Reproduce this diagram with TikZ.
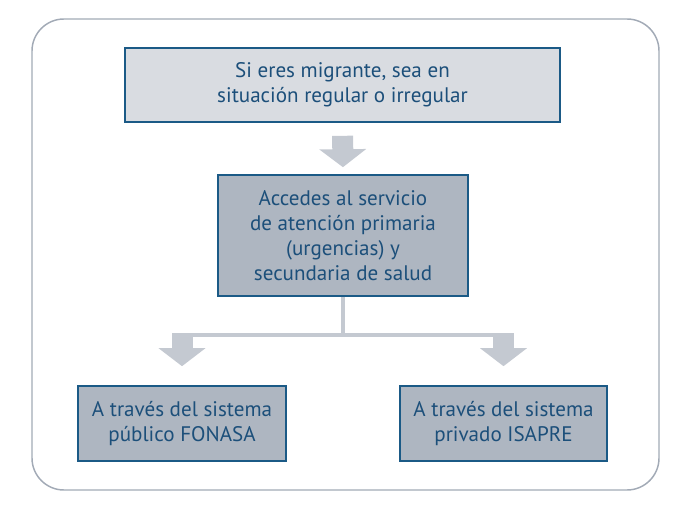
\documentclass[tikz,border=0pt]{standalone}
\usepackage{fontspec}
\setmainfont{PT Sans}
\usetikzlibrary{arrows.meta,positioning}
\definecolor{boxline}{HTML}{1B5A86}
\definecolor{boxtext}{HTML}{1C4F7A}
\definecolor{lightfill}{HTML}{D9DCE1}
\definecolor{darkfill}{HTML}{AEB6C1}
\definecolor{arrowgrey}{HTML}{C4C9D1}
\definecolor{framegrey}{HTML}{A2AAB6}

\begin{document}
\begin{tikzpicture}[x=0.75pt, y=-0.75pt,
   box/.style={draw=boxline, line width=1.2pt, text=boxtext, align=center, inner sep=0pt,
     font=\fontsize{15.8}{18.75}\selectfont},
   lightbox/.style={box, fill=lightfill},
   darkbox/.style={box, fill=darkfill},
   fat/.style={draw=arrowgrey, line width=15.75pt, -{Triangle[width=34.5pt,length=13.5pt]}},
   link/.style={draw=arrowgrey, line width=3pt},
   frame/.style={draw=framegrey, line width=1.1pt, rounded corners=24pt}]
   \useasboundingbox (0,0) rectangle (691,509);
   \draw[frame] (32,19) rectangle (659,490);

   \node[lightbox, minimum width=326pt, minimum height=55.5pt] (migr) at (342.5,85)
      {Si eres migrante, sea en\\situación regular o irregular};
   \node[darkbox, minimum width=187.5pt, minimum height=90.75pt] (acc) at (343,235.5)
      {Accedes al servicio\\de atención primaria\\(urgencias) y\\secundaria de salud};
   \node[darkbox, minimum width=156pt, minimum height=56.25pt] (fonasa) at (182,423.5)
      {A través del sistema\\público FONASA};
   \node[darkbox, minimum width=155.25pt, minimum height=56.25pt] (isapre) at (503.5,423.5)
      {A través del sistema\\privado ISAPRE};

   %split below the second box
   \coordinate (fork) at (343,335);

   \draw[fat, shorten <=9.75pt, shorten >=5.25pt] (migr.south) -- (acc.north);
   \draw[link] (acc.south) -- (fork);
   \draw[link] (fonasa.north |- fork) -- (isapre.north |- fork);
   \draw[fat, shorten <=-1.5pt, shorten >=14.25pt] (fonasa.north |- fork) -- (fonasa.north);
   \draw[fat, shorten <=-1.5pt, shorten >=14.25pt] (isapre.north |- fork) -- (isapre.north);
\end{tikzpicture}
\end{document}
